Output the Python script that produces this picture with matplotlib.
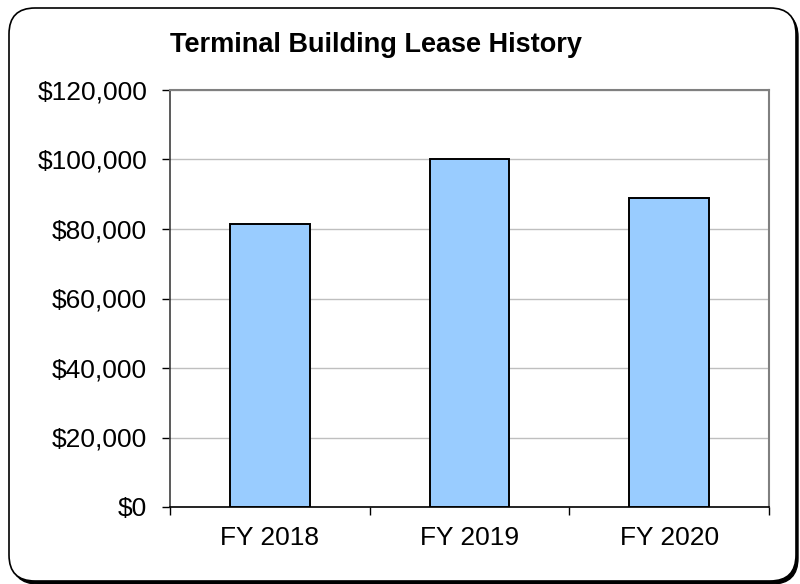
import numpy as np
import matplotlib.pyplot as plt
from matplotlib.patches import FancyBboxPatch
from matplotlib.ticker import FuncFormatter

# data
years = ["FY 2018", "FY 2019", "FY 2020"]
lease = [81400, 100000, 89000]
yticks = [0, 20000, 40000, 60000, 80000, 100000, 120000]

plt.rcParams['font.family'] = ['Liberation Sans', 'DejaVu Sans']

fig = plt.figure(figsize=(8, 5.84), dpi=100)

# background axes in pixel units for the rounded frame + shadow
bg = fig.add_axes([0, 0, 1, 1])
bg.set_xlim(0, 800)
bg.set_ylim(0, 584)
bg.axis("off")
shadow = FancyBboxPatch((12, 0), 786, 573, boxstyle="round,pad=0,rounding_size=26",
                        fc="black", ec="black", lw=1)
bg.add_patch(shadow)
frame = FancyBboxPatch((9, 3), 787, 573, boxstyle="round,pad=0,rounding_size=26",
                       fc="white", ec="black", lw=1.2)
bg.add_patch(frame)

ax = fig.add_axes([170 / 800, 1 - 507 / 584, 599 / 800, 417 / 584])
x = np.arange(len(years))
ax.bar(x, lease, width=0.4, color="#99CCFF", edgecolor="black", linewidth=1.4, zorder=3)

ax.set_xlim(-0.5, len(years) - 0.5)
ax.set_ylim(0, 120000)
ax.set_yticks(yticks)
ax.yaxis.set_major_formatter(FuncFormatter(lambda v, p: "${:,.0f}".format(v)))
ax.grid(axis="y", color="#BFBFBF", linewidth=1, zorder=0)

ax.set_xticks(x)
ax.set_xticklabels(years)
ax.set_xticks(np.arange(-0.5, len(years)), minor=True)
ax.tick_params(axis="x", which="major", length=0, pad=14, labelsize=19)
ax.tick_params(axis="x", which="minor", length=5.5, width=1, direction="out", color="black")
ax.tick_params(axis="y", length=5.5, width=1, direction="out", pad=11, labelsize=19)

for s in ["top", "right"]:
    ax.spines[s].set_color("#808080")
    ax.spines[s].set_linewidth(1.5)
ax.spines["left"].set_color("#404040")
ax.spines["bottom"].set_color("black")
ax.spines["left"].set_linewidth(1.2)
ax.spines["bottom"].set_linewidth(1.2)

fig.text(376 / 800, 1 - 45 / 584, "Terminal Building Lease History", ha="center", va="center",
         fontsize=19.5, fontweight="bold")

fig.savefig("out.png", dpi=100)
